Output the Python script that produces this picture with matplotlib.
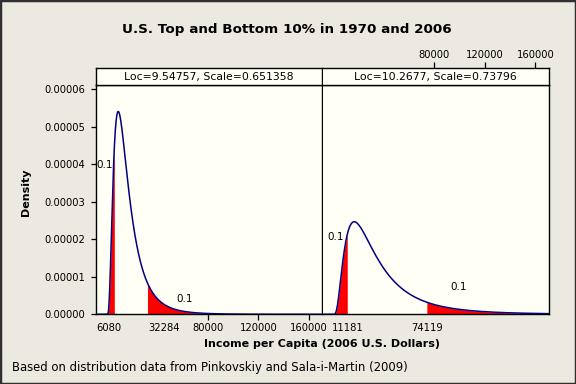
import numpy as np
import matplotlib
matplotlib.use("Agg")
import matplotlib.pyplot as plt
from matplotlib import transforms
from matplotlib.patches import Rectangle

# ---------------- data ----------------
title = "U.S. Top and Bottom 10% in 1970 and 2006"
xlabel = "Income per Capita (2006 U.S. Dollars)"
ylabel = "Density"
footnote = "Based on distribution data from Pinkovskiy and Sala-i-Martin (2009)"

panel_titles = ["Loc=9.54757, Scale=0.651358", "Loc=10.2677, Scale=0.73796"]
panel_loc = [9.54757, 10.2677]
panel_scale = [0.651358, 0.73796]
lower_cut = [6080, 11181]
upper_cut = [32284, 74119]
lower_prob_label = ["0.1", "0.1"]
upper_prob_label = ["0.1", "0.1"]
round_ticks = [80000, 120000, 160000]
round_tick_labels = ["80000", "120000", "160000"]
y_ticks = [0.0, 0.00001, 0.00002, 0.00003, 0.00004, 0.00005, 0.00006]
y_tick_labels = ["0.00000", "0.00001", "0.00002", "0.00003", "0.00004", "0.00005", "0.00006"]

# annotation anchors (data coords) for the tail-probability labels
lower_label_pos = [(5000, 0.0000398), (8700, 0.0000206)]
upper_label_pos = [(61300, 0.0000040), (99600, 0.0000073)]

xlim = (-8400, 170500)
ylim = (0.0, 0.0000611)

# ---------------- style ----------------
BG = "#ECE9E1"
PANEL = "#FFFFF6"
CURVE = "#000080"
FILL = "#FF0000"
FONT = "DejaVu Sans"
plt.rcParams["font.family"] = [FONT]

W, H = 576, 384
fig = plt.figure(figsize=(W / 100, H / 100), dpi=100, facecolor=BG)


def px_axes(x0, y0, w, h):
    return fig.add_axes([x0 / W, 1 - (y0 + h) / H, w / W, h / H])


def lognorm_pdf(x, mu, s):
    out = np.zeros_like(x, dtype=float)
    pos = x > 0
    lx = np.log(x[pos])
    out[pos] = np.exp(-(lx - mu) ** 2 / (2 * s * s)) / (x[pos] * s * np.sqrt(2 * np.pi))
    return out


panel_x = [96, 322.5]
panel_w = 226.25
plot_top = 85
plot_h = 229.3
strip_top = 68.3
strip_h = plot_top - strip_top

for i in range(2):
    ax = px_axes(panel_x[i], plot_top, panel_w, plot_h)
    ax.set_facecolor(PANEL)
    ax.set_xlim(*xlim)
    ax.set_ylim(*ylim)
    mu, s = panel_loc[i], panel_scale[i]

    x = np.linspace(xlim[0], xlim[1], 6000)
    x = np.sort(np.concatenate([x, [lower_cut[i], upper_cut[i]]]))
    y = lognorm_pdf(x, mu, s)

    xl = np.linspace(0, lower_cut[i], 400)
    ax.fill_between(xl, 0, lognorm_pdf(xl, mu, s), color=FILL, lw=0, zorder=2)
    xu = np.linspace(upper_cut[i], xlim[1], 2000)
    ax.fill_between(xu, 0, lognorm_pdf(xu, mu, s), color=FILL, lw=0, zorder=2)
    ax.plot(x, y, color=CURVE, lw=1.1, zorder=3)

    # tail labels
    lx, ly = lower_label_pos[i]
    ax.text(lx, ly, lower_prob_label[i], ha="right", va="center", fontsize=7.5, zorder=4)
    ux, uy = upper_label_pos[i]
    ax.text(ux, uy, upper_prob_label[i], ha="center", va="center", fontsize=7.5, zorder=4)

    for sp in ax.spines.values():
        sp.set_color("black")
        sp.set_linewidth(1.0)
    if i == 1:
        ax.spines["left"].set_visible(False)

    ax.tick_params(axis="x", direction="out", length=4, width=0.9, labelsize=7.2, pad=2,
                   colors="black")
    ax.tick_params(axis="y", direction="out", length=3.5, width=0.9, labelsize=7.2, pad=4.3,
                   colors="black")
    if i == 0:
        ax.set_yticks(y_ticks)
        ax.set_yticklabels(y_tick_labels)
        ax.set_xticks(round_ticks)
        ax.set_xticklabels(round_tick_labels)
    else:
        ax.set_yticks([])
        ax.set_xticks([])

    # percentile labels under the axis (no tick marks)
    trans = transforms.blended_transform_factory(ax.transData, ax.transAxes)
    offs = [-5, 17] if i == 0 else [0, 0]
    for val, dx in zip([lower_cut[i], upper_cut[i]], offs):
        t = trans + transforms.ScaledTranslation(dx / 100, 0, fig.dpi_scale_trans)
        ax.text(val, -0.036, f"{val}", transform=t, ha="center", va="top", fontsize=7.2)

    # strip
    sax = px_axes(panel_x[i], strip_top, panel_w, strip_h)
    sax.set_facecolor(PANEL)
    sax.set_xlim(*xlim)
    sax.set_ylim(0, 1)
    sax.set_yticks([])
    for sp in sax.spines.values():
        sp.set_color("black")
        sp.set_linewidth(1.0)
    if i == 1:
        sax.spines["left"].set_visible(False)
    sax.text(0.5, 0.5, panel_titles[i], transform=sax.transAxes, ha="center", va="center",
             fontsize=7.8)
    if i == 1:
        sax.xaxis.set_ticks_position("top")
        sax.set_xticks(round_ticks)
        sax.set_xticklabels(round_tick_labels)
        sax.tick_params(axis="x", direction="out", length=4, width=0.9, labelsize=7.2, pad=2)
    else:
        sax.set_xticks([])

fig.text(287 / W, 1 - 30 / H, title, ha="center", va="center", fontsize=9.7, fontweight="bold")
fig.text(322 / W, 1 - 344 / H, xlabel, ha="center", va="center", fontsize=8, fontweight="bold")
fig.text(26 / W, 1 - 192 / H, ylabel, ha="center", va="center", fontsize=8, fontweight="bold",
         rotation=90)
fig.text(12 / W, 1 - 368 / H, footnote, ha="left", va="center", fontsize=8.4)

fig.patches.append(Rectangle((0, 0), 1, 1, transform=fig.transFigure, fill=False,
                             edgecolor="#303030", lw=2.5))

fig.savefig("out.png", dpi=100, facecolor=BG)
